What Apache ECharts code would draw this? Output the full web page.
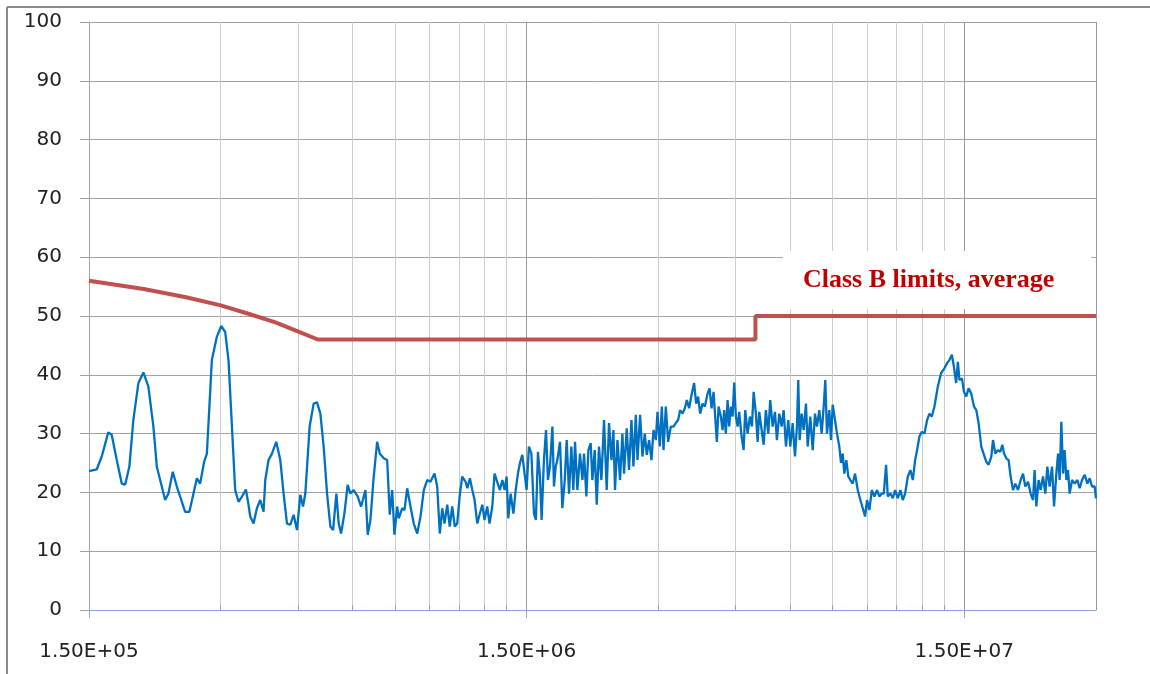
<!DOCTYPE html>
<html><head><meta charset="utf-8">
<script src="https://cdn.jsdelivr.net/npm/echarts@6/dist/echarts.min.js"></script>
<style>html,body{margin:0;padding:0;background:#fff}#c{width:1150px;height:674px}</style>
</head><body><div id="c"></div>
<script>
// ---- data (frequencies in kHz, levels in dBuV) ----
const xTickLabels = ['1.50E+05', '1.50E+06', '1.50E+07'];
const startKHz = 150;
const endKHz = 30000;
const minorMultipliers = [2, 3, 4, 5, 6, 7, 8, 9];
const yTicks = [0, 10, 20, 30, 40, 50, 60, 70, 80, 90, 100];
const limitName = 'Class B limits, average';
const limitPts = [[150,56],[200,54.6],[250,53.2],[300,51.8],[350,50.3],[400,48.9],[450,47.4],[500,46],[5000,46],[5000,50],[30000,50]];
const measured = [
[150,23.6],[156.2,23.9],[160.4,26.1],[166.0,30.2],[169.0,29.8],[173.6,25.5],[178.2,21.5],[181.4,21.3],[185.5,24.4],[189.4,32.3],[194.5,38.6],[199.7,40.4],[205.0,38.0],[210.5,31.2],[214.3,24.4],[218.1,22.1],[223.9,18.7],[227.8,19.8],[233.1,23.5],[238.1,21.0],[242.3,19.3],[248.7,16.7],[254.4,16.7],[259.9,19.8],[264.6,22.4],[269.2,21.5],[274.9,25.2],[278.9,26.6],[286.3,42.5],[294.0,46.5],[300.7,48.3],[307.1,47.3],[312.5,42.5],[318.2,31.2],[323.7,20.4],[329.4,18.4],[335.4,19.3],[342.5,20.5],[347.2,17.9],
[350.4,15.9],[356.5,14.7],[362.9,17.3],[369.3,18.7],[375.8,16.7],[379.2,22.1],[385.8,25.5],[392.8,26.6],[401.8,28.6],[410.4,25.5],[417.6,19.8],[425.1,14.7],[432.6,14.5],[440.2,16.2],[448.1,13.6],[456.0,19.6],[462.5,17.6],[468.2,19.8],[478.9,31.2],[489.1,35.1],[497.9,35.3],[506.7,33.4],[515.6,27.8],[524.9,19.8],[534.1,14.2],[541.7,13.6],[551.3,19.8],[558.0,14.7],[565.1,13.0],[575.0,16.4],[585.1,21.3],[593.5,19.8],[603.9,20.4],[616.7,19.3],[627.9,17.6],[642.3,20.4],[650.1,12.8],[659.4,15.3],[671.0,22.7],[683.1,28.6],[692.5,26.6],[707.3,25.8],[720.1,25.5],[730.0,16.2],[739.3,20.4],[748.3,12.8],[759.0,17.6],[765.4,15.6],[779.3,17.3],[788.8,17.0],[800.1,20.7],[814.1,17.6],[828.4,14.7],[843.4,13.0],
[858.2,15.9],[873.2,20.4],[888.9,22.1],[904.5,21.8],[923.8,23.2],[937.0,21.0],[950.0,13.0],[962.1,17.3],[973.8,14.7],[987.7,17.9],[1001,14.2],[1014,17.6],[1028,14.2],[1041,14.7],[1056,19.8],[1069,22.7],[1088,21.8],[1098,20.7],[1113,22.4],[1127,20.4],[1141,18.7],[1157,14.7],[1173,16.4],[1188,17.9],[1202,15.3],[1219,17.6],[1234,14.7],[1252,17.6],[1267,23.2],[1285,21.8],[1303,20.4],[1320,22.1],[1336,20.4],[1350,22.7],[1362,15.6],[1379,19.8],[1399,16.4],[1416,20.4],[1433,23.2],[1448,25.0],[1466,26.4],[1484,23.2],[1500,20.4],[1518,27.8],[1538,26.6],[1559,16.4],[1575,15.3],[1592,26.9],[1609,22.7],[1623,15.3],[1643,25.5],[1661,30.6],[1678,22.1],[1696,24.4],[1718,31.2],[1732,21.0],[1748,24.4],[1763,25.5],[1788,28.6],[1810,17.3],[1833,22.1],[1852,28.9],[1875,19.8],[1898,27.8],[1918,20.4],[1935,28.6],[1959,20.4],[1986,26.6],[2012,22.1],[2029,26.6],[2054,19.3],[2076,27.2],
[2101,28.4],[2120,22.1],[2146,27.2],[2169,17.9],[2195,27.8],[2223,22.1],[2254,32.3],[2286,20.4],[2314,31.8],[2344,25.5],[2368,30.6],[2388,20.4],[2419,28.9],[2452,22.1],[2483,30.0],[2504,23.2],[2540,30.9],[2571,23.8],[2604,32.3],[2631,24.4],[2664,33.2],[2688,25.5],[2725,33.2],[2759,26.1],[2793,30.0],[2823,26.4],[2857,28.9],[2893,25.5],[2924,30.6],[2960,28.9],[2986,33.7],[3023,27.8],[3055,34.6],[3082,27.2],[3120,34.6],[3158,28.6],[3203,31.2],[3249,31.2],[3288,31.8],[3329,32.3],[3364,34.0],[3407,33.4],[3448,34.3],[3485,35.7],[3527,34.3],[3572,36.6],[3621,38.6],[3660,35.1],[3698,36.3],[3738,33.4],[3785,35.1],[3831,34.6],[3886,36.8],[3927,37.7],[3969,34.3],[4011,37.1],[4045,32.9],[4081,28.6],[4118,34.6],[4168,32.9],[4206,30.6],[4241,34.0],[4279,30.0],[4318,35.7],[4354,31.2],[4394,34.6],[4433,32.9],[4471,38.7],[4511,32.9],[4552,31.2],[4590,33.7],[4648,29.5],[4698,27.2],[4738,34.0],[4798,30.0],[4856,32.9],[4908,31.2],[4952,37.1],[5012,33.4],[5057,28.6],[5100,33.7],
[5146,33.4],[5220,28.1],[5283,34.0],[5348,30.0],[5404,35.7],[5473,31.2],[5540,33.7],[5598,28.9],[5667,33.4],[5739,31.2],[5799,34.0],[5870,27.8],[5942,32.3],[6005,27.8],[6081,31.8],[6155,26.1],[6220,31.2],[6263,39.1],[6309,28.9],[6376,33.4],[6444,30.6],[6522,35.1],[6581,27.8],[6672,32.9],[6757,27.2],[6839,33.4],[6911,31.2],[6996,34.0],[7084,30.0],[7160,34.6],[7220,39.1],[7285,30.0],[7374,34.0],[7440,28.9],[7507,34.9],[7599,32.3],[7679,30.0],[7773,27.8],[7843,25.0],[7913,26.6],[7980,23.2],[8065,25.5],[8150,22.7],[8237,22.1],[8341,21.5],[8443,23.2],[8565,20.4],[8683,18.7],[8794,17.3],[8901,15.9],[8995,18.7],[9105,17.0],[9221,20.4],[9348,19.3],[9482,20.4],[9597,19.3],[9719,19.8],[9822,19.8],[9942,24.7],[10031,19.3],[10170,19.8],[10299,19.0],[10425,20.4],[10574,19.0],[10719,20.4],[10856,18.7],[10988,19.8],[11146,22.7],[11300,23.8],[11443,22.1],[11583,25.5],[11705,27.2],[11848,29.5],[11999,30.3],[12164,30.0],[12338,32.3],[12488,33.4],[12647,32.9],[12822,34.6],[13053,38.0],[13282,40.3],
[13515,41.1],[13709,42.0],[13876,42.5],[14053,43.4],[14202,41.4],[14375,38.6],[14504,42.2],[14627,39.1],[14819,39.4],[14976,37.1],[15159,36.3],[15344,37.7],[15564,36.8],[15787,34.6],[15979,34.0],[16174,31.8],[16406,27.8],[16641,26.4],[16844,25.2],[17049,24.7],[17293,26.1],[17449,28.9],[17662,26.6],[17915,27.2],[18133,26.9],[18325,28.1],[18490,26.6],[18715,25.8],[18943,25.5],[19143,22.7],[19387,20.4],[19623,21.5],[19903,20.4],[20178,22.1],[20434,23.2],[20683,21.0],[20979,21.8],[21268,19.8],[21538,18.7],[21720,23.8],[21916,17.6],[22183,22.1],[22418,20.4],[22702,22.7],[22978,19.8],[23222,24.4],[23505,21.0],[23805,24.4],[24057,17.6],[24350,23.2],[24569,26.6],[24777,22.1],[25000,32.0],[25224,23.2],[25438,27.2],[25667,22.1],[25898,23.8],[26117,19.8],[26449,22.1],[26814,21.5],[27198,22.1],[27530,20.7],[27880,22.1],[28265,23.0],[28670,21.5],[29019,22.4],[29388,21.0],[29794,21.0],[30000,19.0]
];

// ---- build ----
const toDecade = f => Math.log10(f / startKHz);
const xMax = toDecade(endKHz);
const minorTicks = [];
for (let n = 0; n < 3; n++) {
  for (const k of minorMultipliers) {
    const v = n + Math.log10(k);
    if (v < xMax - 1e-6) minorTicks.push(v);
  }
}
const measData = measured.map(p => [toDecade(p[0]), p[1]]);
const limitData = limitPts.map(p => [toDecade(p[0]), p[1]]);

const chart = echarts.init(document.getElementById('c'), null, {renderer: 'canvas'});
const blueAxis = '#7fa7d9';
chart.setOption({
  animation: false,
  backgroundColor: '#ffffff',
  grid: {left: 89, right: 54, top: 22, bottom: 64, containLabel: false},
  legend: {
    data: [{name: limitName, icon: 'none'}],
    left: 783, top: 251,
    padding: [16, 37, 16, 15],
    itemWidth: 0, itemGap: 0,
    backgroundColor: '#ffffff',
    selectedMode: false,
    textStyle: {fontFamily: 'Liberation Serif', fontWeight: 'bold', fontSize: 26, color: '#c00000'}
  },
  xAxis: [
    {
      type: 'value', min: 0, max: xMax, interval: 1, position: 'bottom',
      axisLine: {show: true, lineStyle: {color: blueAxis, width: 1}},
      axisTick: {show: true, length: 8, lineStyle: {color: blueAxis}},
      axisLabel: {
        showMaxLabel: false, margin: 32,
        fontFamily: 'DejaVu Sans', fontSize: 20, color: '#222',
        formatter: v => { const i = Math.round(v); return Math.abs(v - i) < 1e-6 && xTickLabels[i] ? xTickLabels[i] : ''; }
      },
      splitLine: {show: true, lineStyle: {color: '#9a9a9a', width: 1}}
    },
    {
      type: 'value', min: 0, max: xMax, position: 'bottom',
      axisLine: {show: false},
      axisTick: {show: true, inside: true, length: 5, customValues: minorTicks, lineStyle: {color: blueAxis}},
      axisLabel: {show: false},
      splitLine: {show: true, lineStyle: {color: '#cbcbcb', width: 1}}
    }
  ],
  yAxis: {
    type: 'value', min: yTicks[0], max: yTicks[yTicks.length - 1], interval: 10,
    axisLine: {show: true, lineStyle: {color: '#a3a3a3'}},
    axisTick: {show: true, length: 9, lineStyle: {color: '#a3a3a3'}},
    axisLabel: {margin: 27, fontFamily: 'DejaVu Sans', fontSize: 20, color: '#222'},
    splitLine: {show: true, lineStyle: {color: '#a3a3a3', width: 1}}
  },
  series: [
    {
      name: 'Measured', type: 'line', data: measData, showSymbol: false, symbol: 'none',
      lineStyle: {color: '#0070c0', width: 2.3}, itemStyle: {color: '#0070c0'}, z: 3
    },
    {
      name: limitName, type: 'line', data: limitData, showSymbol: false, symbol: 'none',
      lineStyle: {color: '#c0504d', width: 4}, itemStyle: {color: '#c0504d'}, z: 4
    }
  ],
  graphic: [
    {type: 'line', shape: {x1: 7, y1: 7, x2: 1150, y2: 7}, style: {stroke: '#8a8a8a', lineWidth: 2}},
    {type: 'line', shape: {x1: 7, y1: 7, x2: 7, y2: 674}, style: {stroke: '#8a8a8a', lineWidth: 2}}
  ]
});
</script></body></html>
